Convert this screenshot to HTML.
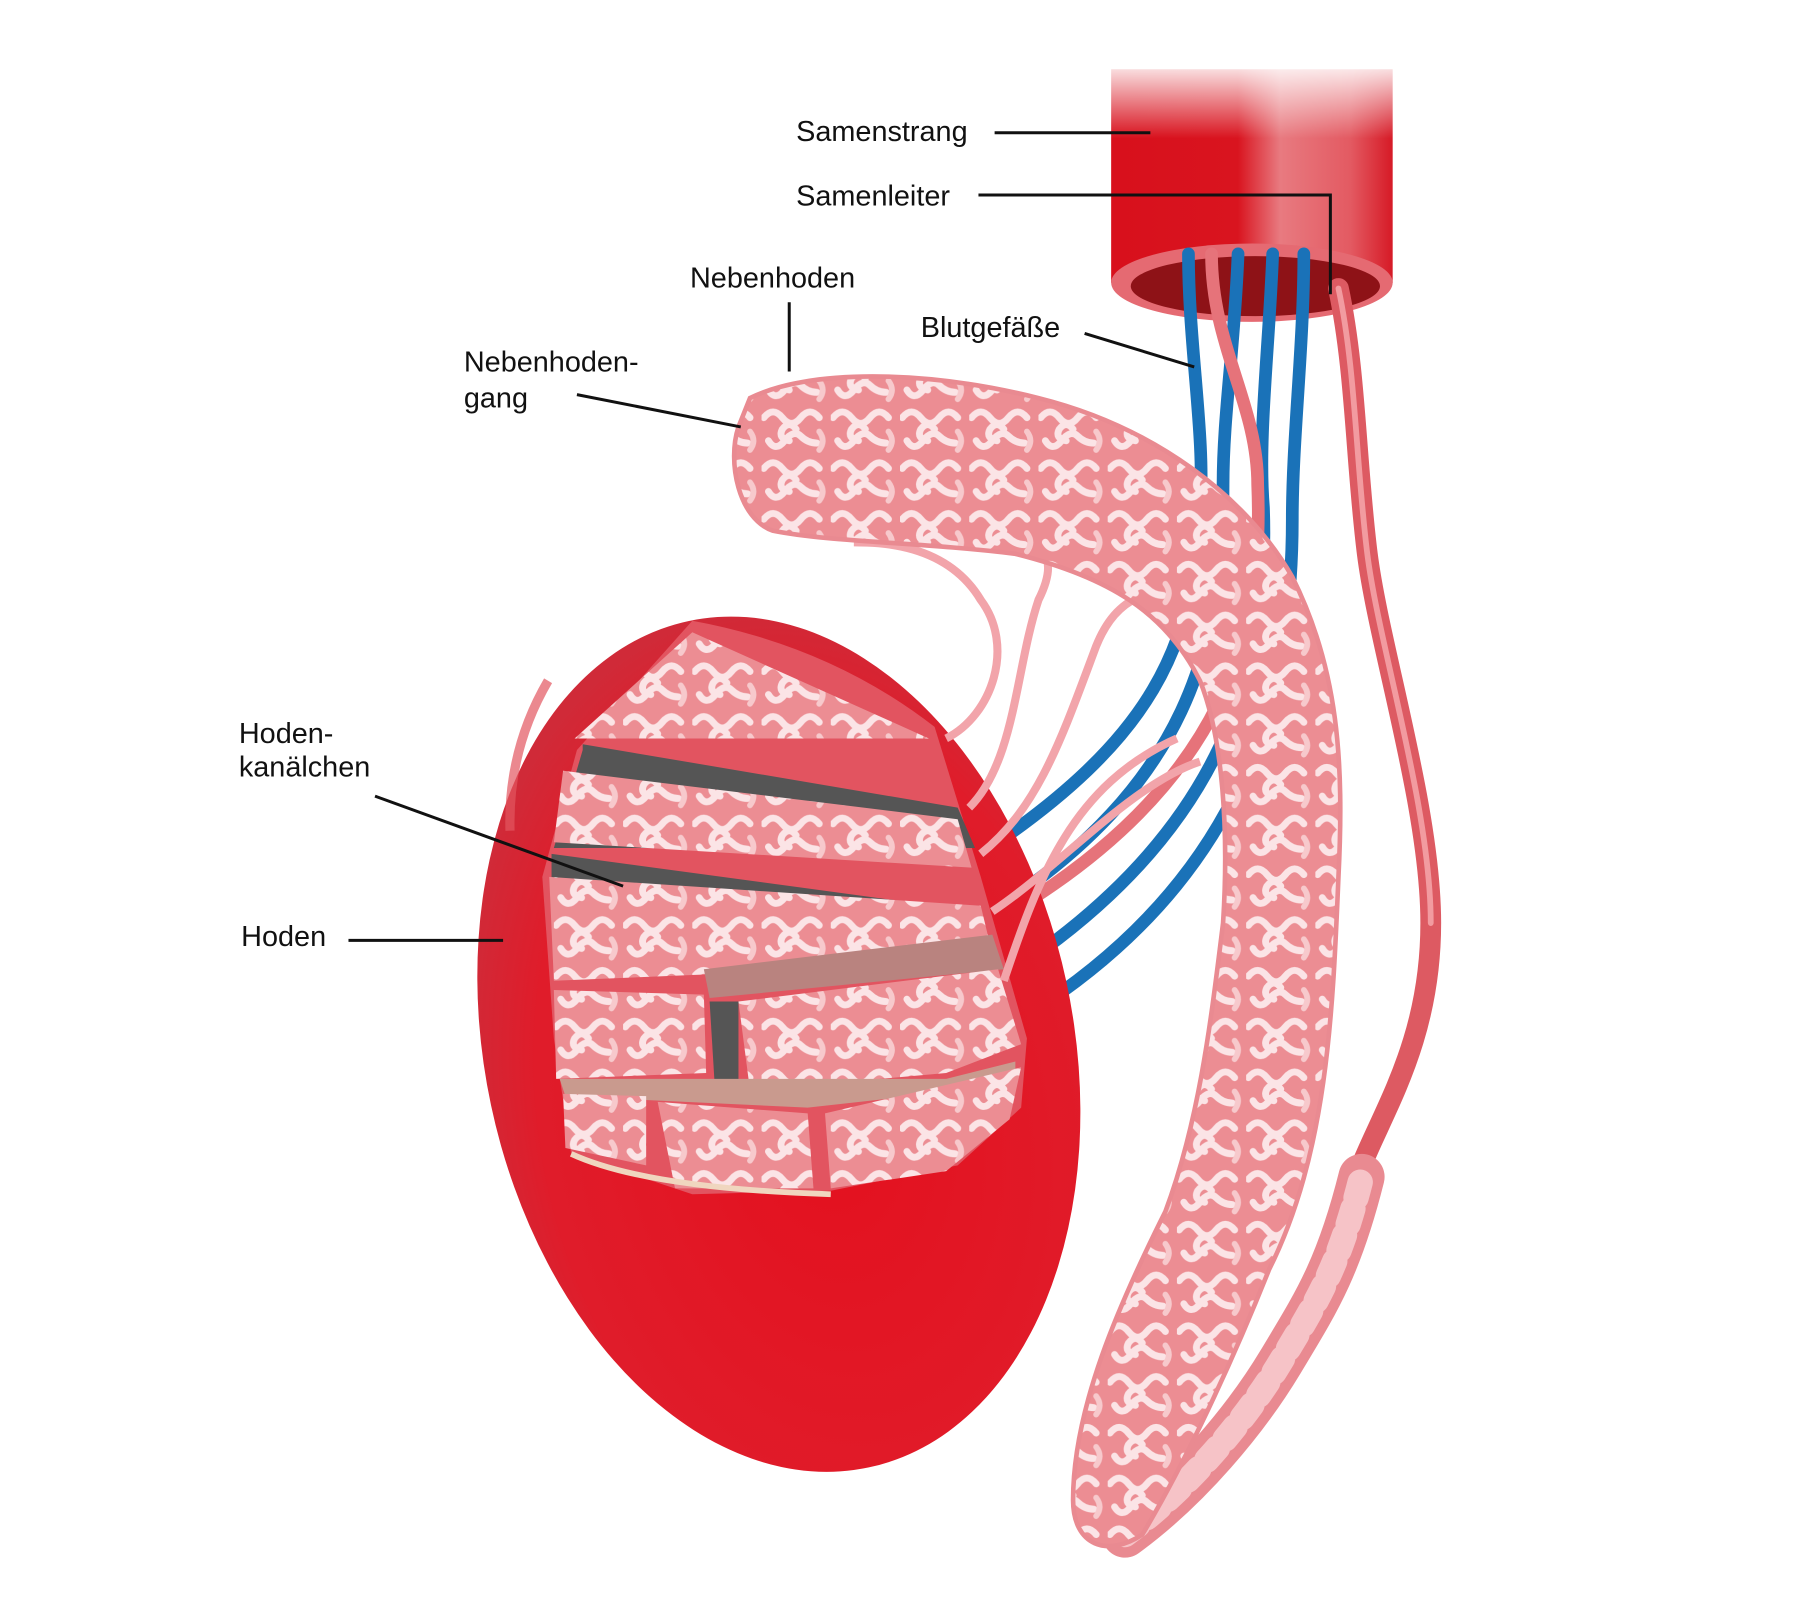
<!DOCTYPE html>
<html><head><meta charset="utf-8"><style>
html,body{margin:0;padding:0;background:#fff;}
svg{display:block;}
text{font-family:"Liberation Sans",sans-serif;font-size:25px;fill:#111;}
</style></head><body>
<svg width="1800" height="1600" viewBox="0 0 1560 1386.7" xmlns="http://www.w3.org/2000/svg">
<defs>
<linearGradient id="cyl" x1="0" x2="1" y1="0" y2="0">
<stop offset="0" stop-color="#d8101c"/><stop offset="0.45" stop-color="#d9141f"/><stop offset="0.6" stop-color="#e87a80"/><stop offset="0.85" stop-color="#e35a62"/><stop offset="1" stop-color="#d61a26"/>
</linearGradient>
<linearGradient id="fade" x1="0" x2="0" y1="0" y2="1">
<stop offset="0" stop-color="#fff" stop-opacity="1"/><stop offset="1" stop-color="#fff" stop-opacity="0"/>
</linearGradient>
<radialGradient id="testis" cx="0.55" cy="0.6" r="0.6">
<stop offset="0" stop-color="#e4101e"/><stop offset="0.8" stop-color="#e01c2a"/><stop offset="1" stop-color="#d02a38"/>
</radialGradient>
<pattern id="sq" width="60" height="44" patternUnits="userSpaceOnUse">
<rect width="60" height="44" fill="#ec8d93"/>
<path d="M2 10 q8 -10 16 0 t16 0 t16 0 M6 30 q6 10 14 0 t14 -4 t14 6 M30 20 q-6 -8 -12 0 q-4 8 6 10" stroke="#fbe4e6" stroke-width="6" fill="none" stroke-linecap="round"/>
<path d="M50 38 q6 -8 0 -16" stroke="#f7c9cc" stroke-width="5" fill="none" stroke-linecap="round"/>
</pattern>
</defs>

<!-- cylinder -->
<rect x="963" y="60" width="244" height="185" fill="url(#cyl)"/>
<rect x="955" y="50" width="260" height="70" fill="url(#fade)"/>
<ellipse cx="1085" cy="245" rx="122" ry="34" fill="#e56a72"/>
<ellipse cx="1088" cy="248" rx="108" ry="26" fill="#8e1217"/>

<!-- vessels -->
<g fill="none" stroke-linecap="round">
<path d="M1030 220 C1030 300 1045 380 1040 440 C1035 560 1000 640 850 740" stroke="#1a72b8" stroke-width="11"/>
<path d="M1073 220 C1070 300 1060 360 1060 420 C1060 560 1030 680 860 790" stroke="#1a72b8" stroke-width="11"/>
<path d="M1103 220 C1100 300 1090 380 1095 440 C1100 580 1060 720 880 840" stroke="#1a72b8" stroke-width="11"/>
<path d="M1130 220 C1130 300 1120 380 1120 450 C1120 600 1080 760 890 880" stroke="#1a72b8" stroke-width="11"/>
<path d="M1050 220 C1050 300 1090 350 1090 420 C1095 540 1070 680 860 800" stroke="#e6737a" stroke-width="11"/>
<path d="M1160 250 C1175 320 1175 400 1185 480 C1195 560 1240 700 1240 800 C1240 900 1200 960 1180 1010 C1160 1070 1150 1130 1100 1200" stroke="#dd5a62" stroke-width="18"/>
<path d="M1160 250 C1175 320 1175 400 1185 480 C1195 560 1240 700 1240 800" stroke="#f29ba0" stroke-width="5"/>
</g>

<!-- testis -->
<ellipse cx="675" cy="905" rx="255" ry="375" transform="rotate(-12 675 905)" fill="url(#testis)"/>
<path d="M442 720 Q440 650 475 590" stroke="#e2555f" stroke-width="8" fill="none" opacity="0.7"/>
<!-- cut face -->
<path d="M600 538 Q720 560 810 630 L850 760 L890 900 L885 960 L830 1010 L720 1032 L600 1035 L495 1000 L480 900 L470 760 L500 650 Z" fill="#e25460"/>
<path d="M600 548 L805 640 L498 640 Z" fill="url(#sq)"/>
<path d="M505 650 L505 645 L830 700 L845 735 L480 735 Z" fill="#555"/>
<path d="M488 668 L830 710 L842 752 L480 730 Z" fill="url(#sq)"/>
<path d="M478 740 L848 790 L852 800 L478 770 Z" fill="#555"/>
<path d="M476 760 L850 785 L862 835 L600 845 L480 850 Z" fill="url(#sq)"/>
<path d="M610 840 L860 810 L870 840 L615 865 Z" fill="#b9837f"/>
<path d="M480 858 L610 862 L612 930 L482 935 Z" fill="url(#sq)"/>
<path d="M615 868 L640 868 L640 950 L620 950 Z" fill="#555"/>
<path d="M640 868 L865 840 L885 905 L820 930 L650 945 Z" fill="url(#sq)"/>
<path d="M485 935 L820 935 L880 920 L880 940 L700 960 L490 950 Z" fill="#c99a8e"/>
<path d="M488 948 L560 950 L560 1010 L490 995 Z" fill="url(#sq)"/>
<path d="M570 955 L700 965 L705 1030 L585 1030 Z" fill="url(#sq)"/>
<path d="M715 965 L885 925 L875 970 L820 1015 L720 1030 Z" fill="url(#sq)"/>
<path d="M495 1000 Q560 1030 720 1035" stroke="#f0d6bf" stroke-width="5" fill="none"/>

<!-- efferent ducts -->
<g fill="none" stroke="#f2a4aa" stroke-width="7">
<path d="M820 640 C860 620 880 560 850 520 C820 470 760 470 740 470"/>
<path d="M840 700 C880 660 880 580 900 520 C920 480 900 470 880 470"/>
<path d="M850 740 C900 700 920 640 950 560 C970 510 1000 520 1010 500"/>
<path d="M860 790 C920 750 980 680 1040 660"/>
<path d="M870 850 C900 760 930 680 1020 640"/>
</g>

<!-- tail back up -->
<path d="M975 1330 C1030 1290 1080 1230 1110 1180 C1140 1130 1160 1100 1180 1020" stroke="#e98a91" stroke-width="40" fill="none" stroke-linecap="round"/>
<path d="M975 1330 C1030 1290 1080 1230 1110 1180 C1140 1130 1160 1100 1180 1020" stroke="#f6c3c7" stroke-width="22" fill="none" stroke-dasharray="14 10" stroke-linecap="round"/>

<!-- epididymis -->
<path d="M650 345 C700 320 800 320 900 345 C1000 370 1080 430 1120 500 C1160 580 1165 660 1160 760 C1155 880 1150 1000 1100 1100 C1060 1200 1020 1280 990 1330 C960 1350 930 1340 930 1300 C930 1220 970 1130 1010 1050 C1040 970 1050 880 1060 800 C1065 720 1060 640 1040 590 C1010 530 960 500 880 480 C800 470 720 470 670 460 C640 450 630 400 640 370 Z" fill="url(#sq)" stroke="#e98a91" stroke-width="4"/>

<!-- leader lines -->
<g stroke="#111" stroke-width="2.6" fill="none">
<path d="M862 115 L997 115"/>
<path d="M848 169 L1153 169 L1153 255"/>
<path d="M684 262 L684 322"/>
<path d="M500 342 L642 370"/>
<path d="M940 289 L1035 318"/>
<path d="M325 690 L540 768"/>
<path d="M302 815 L436 815"/>
</g>

<text x="690" y="122">Samenstrang</text>
<text x="690" y="178">Samenleiter</text>
<text x="598" y="249">Nebenhoden</text>
<text x="402" y="322">Nebenhoden-</text>
<text x="402" y="353">gang</text>
<text x="798" y="292">Blutgefäße</text>
<text x="207" y="644">Hoden-</text>
<text x="207" y="673">kanälchen</text>
<text x="209" y="820">Hoden</text>
</svg>
</body></html>
